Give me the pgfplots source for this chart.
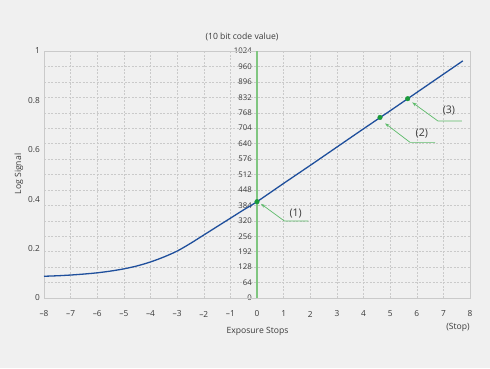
\documentclass[border=0pt]{standalone}
\usepackage{pgfplots}
\pgfplotsset{compat=1.18}
\usetikzlibrary{arrows.meta}
\usepackage{fontspec}
\setmainfont{Open Sans}
\definecolor{bg}{HTML}{F0F0F0}
\definecolor{curve}{HTML}{1F4F9C}
\definecolor{gline}{HTML}{80C680}
\definecolor{gmark}{HTML}{1A9A3A}
\definecolor{gann}{HTML}{5DBB6A}
\definecolor{txt}{HTML}{3A3A3A}
\definecolor{gridc}{HTML}{CACACA}
\begin{document}
\begin{tikzpicture}[x=1pt,y=1pt]
\fill[bg] (0,0) rectangle (490,368);
% right (code value) axis: horizontal grid and labels
\begin{axis}[at={(44pt,70pt)}, anchor=south west, scale only axis,
  width=426pt, height=247pt,
  xmin=-8, xmax=8, ymin=0, ymax=1024,
  axis x line=none, axis y line=middle,
  axis line style={draw=none},
  ytick={0,64,128,192,256,320,384,448,512,576,640,704,768,832,896,960,1024},
  yticklabels={0,64,128,192,256,320,384,448,512,576,640,704,768,832,896,960,1024},
  ymajorgrids, grid style={dash pattern=on 2pt off 1.5pt, gridc, line width=0.5pt},
  major tick length=0pt,
  yticklabel style={anchor=east, inner sep=0pt, xshift=-5pt, font=\fontsize{7.8}{9}\selectfont, text=txt},
]
\addplot[draw=none] coordinates {(0,0)};
\end{axis}
% main axis
\begin{axis}[at={(44pt,70pt)}, anchor=south west, scale only axis,
  width=426pt, height=247pt,
  xmin=-8, xmax=8, ymin=0, ymax=1,
  xtick={-8,-7,-6,-5,-4,-3,-2,-1,0,1,2,3,4,5,6,7,8},
  xticklabels={–8,–7,–6,–5,–4,–3,–2,–1,0,1,2,3,4,5,6,7,8},
  ytick={0,0.2,0.4,0.6,0.8,1},
  yticklabels={0,0.2,0.4,0.6,0.8,1},
  xmajorgrids, grid style={dash pattern=on 2pt off 1.5pt, gridc, line width=0.5pt},
  axis line style={draw=gridc, line width=0.6pt},
  major tick length=0pt,
  tick label style={font=\fontsize{8.3}{10}\selectfont, text=txt},
  xticklabel style={anchor=center, yshift=-16pt},
  yticklabel style={anchor=east, inner sep=0pt, xshift=-4pt},
  clip=false,
]
\addplot[gline, line width=1.7pt] coordinates {(0,0) (0,1)};
\addplot[curve, line width=1.3pt, smooth] coordinates {
(-8,0.088) (-7.5,0.090) (-7,0.093) (-6.5,0.097) (-6,0.102) (-5.5,0.109)
(-5,0.118) (-4.5,0.130) (-4,0.146) (-3.5,0.166) (-3,0.190) (-2.5,0.221)
(-2,0.255) (-1.5,0.289) (-1,0.323) (-0.5,0.357) (0,0.390) (1,0.464)
(2,0.537) (3,0.611) (4,0.685) (5,0.758) (6,0.832) (7,0.906) (7.73,0.960)};
\addplot[only marks, mark=*, mark size=2.3pt, gmark] coordinates {(0,0.390) (4.62,0.731) (5.66,0.807)};
% annotations
\draw[gann, line width=0.7pt, -{Stealth[length=4.5pt,width=3.2pt]}] (axis cs:1.93,0.312) -- (axis cs:1.025,0.312) -- (axis cs:0.15,0.381);
\draw[gann, line width=0.7pt, -{Stealth[length=4.5pt,width=3.2pt]}] (axis cs:6.69,0.630) -- (axis cs:5.75,0.630) -- (axis cs:4.81,0.707);
\draw[gann, line width=0.7pt, -{Stealth[length=4.5pt,width=3.2pt]}] (axis cs:7.69,0.717) -- (axis cs:6.79,0.717) -- (axis cs:5.83,0.792);
\node[text=txt, font=\fontsize{10.5}{12}\selectfont] at (axis cs:1.45,0.343) {(1)};
\node[text=txt, font=\fontsize{10.5}{12}\selectfont] at (axis cs:6.19,0.667) {(2)};
\node[text=txt, font=\fontsize{10.5}{12}\selectfont] at (axis cs:7.21,0.757) {(3)};
\end{axis}
\node[text=txt, font=\fontsize{8.6}{10}\selectfont] at (257.5,36.3) {Exposure Stops};
\node[text=txt, font=\fontsize{8.6}{10}\selectfont] at (458,41) {(Stop)};
\node[text=txt, font=\fontsize{8.6}{10}\selectfont, rotate=90] at (19,194) {Log Signal};
\node[text=txt, font=\fontsize{8.6}{10}\selectfont] at (242,331.3) {(10 bit code value)};
\end{tikzpicture}
\end{document}
